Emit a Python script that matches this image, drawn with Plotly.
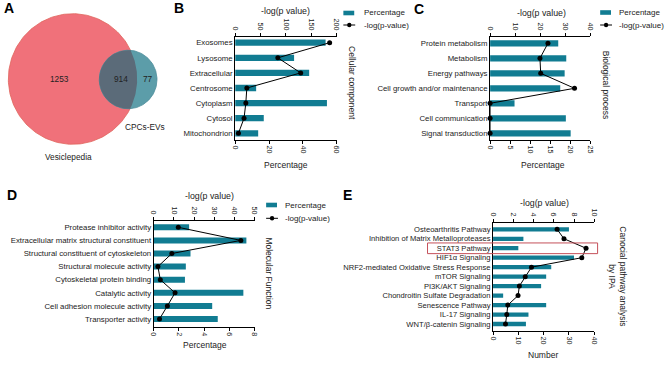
import numpy as np
import plotly.graph_objects as go

W, H = 669, 367

# ---------------- data ----------------
venn_sets = ["Vesiclepedia", "CPCs-EVs"]
venn_counts = [1253, 914, 77]  # only Vesiclepedia, shared, only CPCs-EVs

cc_terms = ["Exosomes", "Lysosome", "Extracellular", "Centrosome", "Cytoplasm", "Cytosol", "Mitochondrion"]
cc_pct = [53.4, 34.8, 43.7, 12.4, 54.2, 16.9, 13.6]
cc_logp = [186, 84, 129, 23, 21, 17.5, 6.5]

bp_terms = ["Protein metabolism", "Metabolism", "Energy pathways", "Cell growth and/or maintenance",
            "Transport", "Cell communication", "Signal transduction"]
bp_pct = [17.0, 19.0, 18.6, 17.5, 6.1, 18.9, 20.1]
bp_logp = [23.1, 19.9, 20.2, 33.7, 0, 0, 0]

mf_terms = ["Protease inhibitor activity", "Extracellular matrix structural constituent",
            "Structural constituent of cytoskeleton", "Structural molecule activity",
            "Cytoskeletal protein binding", "Catalytic activity", "Cell adhesion molecule activity",
            "Transporter activity"]
mf_pct = [2.81, 7.35, 2.92, 2.55, 2.48, 7.11, 4.64, 5.08]
mf_logp = [12.2, 43.2, 9.0, 2.1, 3.3, 10.6, 6.8, 2.9]

ipa_terms = ["Osteoarthritis Pathway", "Inhibition of Matrix Metalloproteases", "STAT3 Pathway",
             "HIF1α Signaling", "NRF2-mediated Oxidative Stress Response", "mTOR Signaling",
             "PI3K/AKT Signaling", "Chondroitin Sulfate Degradation", "Senescence Pathway",
             "IL-17 Signaling", "WNT/β-catenin Signaling"]
ipa_num = [30, 12, 10, 32, 23, 21, 19, 4, 21, 14, 13]
ipa_logp = [6.33, 7.01, 9.19, 8.77, 3.8, 3.18, 2.6, 2.47, 1.46, 1.36, 1.23]

# ---------------- style ----------------
TEAL = "#117C92"
TXT = "#222222"
FONT = "Liberation Sans, Arial, sans-serif"


def px(x):
    return x / W


def py(y):
    return 1 - y / H


def note(x, y, text, size, xanchor="center", angle=0, color=TXT):
    return dict(x=px(x), y=py(y), xref="paper", yref="paper", text=text, showarrow=False,
                xanchor=xanchor, yanchor="middle", textangle=angle,
                font=dict(size=size, color=color))


fig = go.Figure()
annotations = []
shapes = []

# ---------------- Venn (panel A) ----------------
R_big, c_big = 65.3, (69.7, 79.0)
R_sm, c_sm = 29.3, (125.8, 79.5)
th = np.linspace(0, 2 * np.pi, 241)


def circle(c, r):
    return c[0] + r * np.cos(th), c[1] + r * np.sin(th)


bx, by = circle(c_big, R_big)
fig.add_trace(go.Scatter(x=bx, y=by, xaxis="x9", yaxis="y5", mode="lines", fill="toself",
                         fillcolor="#F0717A", line=dict(color="#E0645C", width=0.8),
                         hoverinfo="skip", showlegend=False))
sx, sy = circle(c_sm, R_sm)
fig.add_trace(go.Scatter(x=sx, y=sy, xaxis="x9", yaxis="y5", mode="lines", fill="toself",
                         fillcolor="#5C9DA9", line=dict(color="#4B8C99", width=0.8),
                         hoverinfo="skip", showlegend=False))
# lens (overlap region)
d = c_sm[0] - c_big[0]
a = (d ** 2 + R_big ** 2 - R_sm ** 2) / (2 * d)
h = np.sqrt(max(R_big ** 2 - a ** 2, 0))
phi = np.arctan2(h, a)
psi = np.arctan2(h, a - d)
t_sm = np.linspace(psi, 2 * np.pi - psi, 120)
t_bg = np.linspace(-phi, phi, 60)
lx = np.concatenate([c_sm[0] + R_sm * np.cos(t_sm), c_big[0] + R_big * np.cos(t_bg)])
ly = np.concatenate([c_sm[1] + R_sm * np.sin(t_sm), c_big[1] + R_big * np.sin(t_bg)])
fig.add_trace(go.Scatter(x=lx, y=ly, xaxis="x9", yaxis="y5", mode="lines", fill="toself",
                         fillcolor="#5B6B79", line=dict(color="rgba(0,0,0,0)", width=0),
                         hoverinfo="skip", showlegend=False))

venn_text_pos = [(56, 79.3), (118.3, 79.3), (145.7, 79.3)]
for (tx, ty), v in zip(venn_text_pos, venn_counts):
    annotations.append(note(tx, ty, str(v), 8.3))
annotations.append(note(65.7, 156.7, venn_sets[0], 8.3))
annotations.append(note(143.3, 126.7, venn_sets[1], 8.3))

# ---------------- bar + line panels ----------------
panels = [
    dict(terms=cc_terms, bars=cc_pct, line=cc_logp, box=(234.3, 37, 337.3, 140), first=42.7, last=133.3,
         bmax=60, bd=20, tmax=200, td=50, bw=0.42, fs=7.8,
         top_title=(285.8, 10.7), bot_title=("Percentage", 286, 165), side=("Cellular component", 352, 83.3),
         legend=(344, 13, 25, 362.7)),
    dict(terms=bp_terms, bars=bp_pct, line=bp_logp, box=(492.7, 37, 594.3, 140), first=43.3, last=133.3,
         bmax=25, bd=5, tmax=40, td=10, bw=0.42, fs=7.8,
         top_title=(545, 12.7), bot_title=("Percentage", 546, 165), side=("Biological process", 610.5, 85),
         legend=(604.3, 12.5, 25, 621)),
    dict(terms=mf_terms, bars=mf_pct, line=mf_logp, box=(151.7, 221, 254, 326.7), first=227.3, last=319,
         bmax=8, bd=2, tmax=50, td=10, bw=0.46, fs=7.8,
         top_title=(208, 195.7), bot_title=("Percentage", 204, 345), side=("Molecular Function", 268.5, 273.3),
         legend=(265.7, 205, 218.3, 282.7)),
    dict(terms=ipa_terms, bars=ipa_num, line=ipa_logp, box=(495.7, 223, 598.3, 331), first=229.3, last=324,
         bmax=40, bd=10, tmax=10, td=2, bw=0.45, fs=7.6,
         top_title=(547.5, 203.3), bot_title=("Number", 546.7, 355),
         side=("Canocial pathway analysis<br>by IPA", 622, 276), legend=None),
]

layout_axes = {
    "xaxis9": dict(domain=[0, px(170)], range=[0, 170], visible=False, fixedrange=True, anchor="y5"),
    "yaxis5": dict(domain=[py(170), 1], range=[170, 0], visible=False, fixedrange=True, anchor="x9"),
}
for i, p in enumerate(panels, start=1):
    xb = "x" if i == 1 else f"x{2 * i - 1}"
    xt = f"x{2 * i}"
    yy = "y" if i == 1 else f"y{i}"
    x0, y0, x1, y1 = p["box"]
    n = len(p["terms"])
    step = (p["last"] - p["first"]) / (n - 1)
    rng = [n - 1 + (y1 - p["last"]) / step, -(p["first"] - y0) / step]

    fig.add_trace(go.Bar(x=p["bars"], y=p["terms"], orientation="h", xaxis=xb, yaxis=yy,
                         marker=dict(color=TEAL, line=dict(width=0)), width=p["bw"], showlegend=False))
    fig.add_trace(go.Scatter(x=p["line"], y=p["terms"], xaxis=xt, yaxis=yy, mode="lines+markers",
                             line=dict(color="black", width=1), marker=dict(color="black", size=5),
                             cliponaxis=False, showlegend=False))

    common = dict(showline=True, linecolor="black", linewidth=1, ticks="outside", ticklen=3,
                  tickwidth=1, tickcolor="black", tickangle=90, showgrid=False, zeroline=False,
                  tickfont=dict(size=7.2, color=TXT), fixedrange=True)
    layout_axes["xaxis" if i == 1 else f"xaxis{2 * i - 1}"] = dict(
        domain=[px(x0), px(x1)], range=[0, p["bmax"]], dtick=p["bd"], tick0=0, anchor=yy, side="bottom",
        **common)
    layout_axes[f"xaxis{2 * i}"] = dict(
        domain=[px(x0), px(x1)], range=[0, p["tmax"]], dtick=p["td"], tick0=0, anchor=yy, side="top",
        overlaying=xb, **common)
    layout_axes["yaxis" if i == 1 else f"yaxis{i}"] = dict(
        domain=[py(y1), py(y0)], anchor=xb, type="category", categoryorder="array",
        categoryarray=p["terms"], range=rng, showline=True, linecolor="black", linewidth=1,
        ticks="", showgrid=False, zeroline=False, tickfont=dict(size=p["fs"], color=TXT),
        fixedrange=True)

    tx, ty = p["top_title"]
    annotations.append(note(tx, ty, "-log(p value)", 8.8))
    bt, bxp, byp = p["bot_title"]
    annotations.append(note(bxp, byp, bt, 8.5))
    st, sxp, syp = p["side"]
    annotations.append(note(sxp, syp, st, 8.5, angle=90))

    if p["legend"]:
        lx0, ly1, ly2, ltx = p["legend"]
        shapes.append(dict(type="rect", xref="paper", yref="paper", x0=px(lx0), x1=px(lx0 + 11),
                           y0=py(ly1 + 2.3), y1=py(ly1 - 2.3), fillcolor=TEAL, line=dict(width=0)))
        shapes.append(dict(type="line", xref="paper", yref="paper", x0=px(lx0), x1=px(lx0 + 12),
                           y0=py(ly2), y1=py(ly2), line=dict(color="black", width=1)))
        shapes.append(dict(type="circle", xref="paper", yref="paper", x0=px(lx0 + 6 - 2.2),
                           x1=px(lx0 + 6 + 2.2), y0=py(ly2 + 2.2), y1=py(ly2 - 2.2),
                           fillcolor="black", line=dict(width=0)))
        annotations.append(note(ltx, ly1, "Percentage", 8, xanchor="left"))
        annotations.append(note(ltx, ly2, "-log(p-value)", 8, xanchor="left"))

# highlight STAT3 pathway
stat_idx = ipa_terms.index("STAT3 Pathway")
shapes.append(dict(type="rect", xref="paper", yref="y4", x0=px(429.3), x1=px(601.7),
                   y0=stat_idx - 0.56, y1=stat_idx + 0.57, line=dict(color="#C5505A", width=1),
                   fillcolor="rgba(0,0,0,0)", layer="above"))

# panel letters
for letter, (lx_, ly_) in zip("ABCDE", [(5.5, 8), (177.5, 8), (421, 9), (8, 195), (347.7, 195)]):
    annotations.append(note(lx_, ly_, f"<b>{letter}</b>", 14, color="black"))

fig.update_layout(**layout_axes)
fig.update_layout(width=W, height=H, margin=dict(l=0, r=0, t=0, b=0), paper_bgcolor="white",
                  plot_bgcolor="rgba(0,0,0,0)", font=dict(family=FONT, color=TXT), showlegend=False,
                  annotations=annotations, shapes=shapes, barmode="overlay")

fig.write_html("out.html", config={"displayModeBar": False, "staticPlot": True},
               post_script="document.body.style.margin='0';document.body.style.overflow='hidden';")
